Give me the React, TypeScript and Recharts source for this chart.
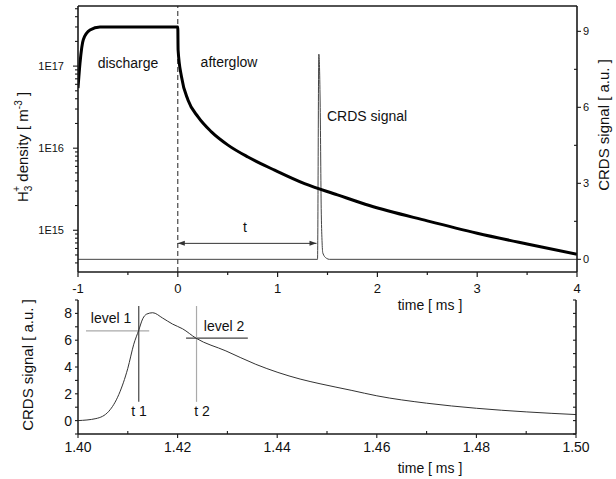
import { LineChart, Line, XAxis, YAxis, ReferenceLine } from 'recharts';

// ---- top panel: H3+ density (log, left) and CRDS signal (right) vs time
const densityTime = [-1, -0.98, -0.947, -0.88, -0.78, -0.5, 0, 0.003, 0.037, 0.103, 0.203, 0.337, 0.503, 0.703, 0.97, 1.27, 1.6, 1.92, 2.5, 3.0, 3.5, 4.0];
const densityValue = [5.4e16, 1.09e17, 2.1e17, 2.75e17, 3.0e17, 3.0e17, 3.0e17, 1.57e17, 7.4e16, 3.85e16, 2.4e16, 1.58e16, 1.09e16, 7.8e15, 5.4e15, 3.7e15, 2.7e15, 2.0e15, 1.3e15, 9.2e14, 6.8e14, 5.1e14];

const crdsTime = [-1, 1.4, 1.413, 1.427, 1.437, 1.445, 1.453, 1.49, 1.52, 4];
const crdsValue = [0, 0, 8.1, 6.0, 2.0, 0.75, 0.25, 0.04, 0, 0];

const topXTicks = [-1, -0.5, 0, 0.5, 1, 1.5, 2, 2.5, 3, 3.5, 4];
const densityTicks = [4e14, 5e14, 6e14, 7e14, 8e14, 9e14, 1e15, 2e15, 3e15, 4e15, 5e15, 6e15, 7e15, 8e15, 9e15, 1e16, 2e16, 3e16, 4e16, 5e16, 6e16, 7e16, 8e16, 9e16, 1e17, 2e17, 3e17, 4e17, 5e17];
const crdsTicks = [0, 1.5, 3, 4.5, 6, 7.5, 9];
const crdsDomain = [-0.5, 10];

// delay arrow "t" (from discharge end to CRDS pulse), on CRDS scale
const arrowTime = [0, 1.39];
const arrowLevel = 0.63;

// ---- bottom panel: zoom of the CRDS pulse
const zoomTime = [1.4, 1.4036, 1.4062, 1.4082, 1.41, 1.4112, 1.4122, 1.413, 1.4138, 1.415, 1.417, 1.419, 1.421, 1.4237, 1.4297, 1.4357, 1.4446, 1.4486, 1.455, 1.46, 1.47, 1.48, 1.49, 1.5];
const zoomSignal = [0.0, 0.15, 0.7, 1.95, 3.9, 5.7, 6.75, 7.6, 7.95, 8.05, 7.65, 7.2, 6.85, 6.15, 5.2, 4.2, 3.1, 2.75, 2.25, 1.85, 1.3, 0.92, 0.65, 0.45];

const zoomXTicks = [1.4, 1.41, 1.42, 1.43, 1.44, 1.45, 1.46, 1.47, 1.48, 1.49, 1.5];
const zoomYTicks = [-1, 0, 1, 2, 3, 4, 5, 6, 7, 8, 9];

const levelValue = [6.7, 6.15];
const levelFrom = [1.4016, 1.4217];
const levelTo = [1.4143, 1.4341];
const crossTime = [1.4122, 1.4238];
const crossSpan = [1.4, 8.55];

const FONT = '"Liberation Sans", Arial, Helvetica, sans-serif';
const AXIS = '#1a1a1a';
const INK = '#111';

const topData = Array.from(new Set([...densityTime, ...crdsTime]))
  .sort((a, b) => a - b)
  .map(t => {
    const di = densityTime.indexOf(t);
    const ci = crdsTime.indexOf(t);
    return { t, density: di >= 0 ? densityValue[di] : null, crds: ci >= 0 ? crdsValue[ci] : null };
  });

const zoomData = zoomTime.map((t, i) => ({ t, signal: zoomSignal[i] }));

const isInt = (v: number) => Math.abs(v - Math.round(v)) < 1e-6;

const TopBottomTick = ({ x, y, payload }: any) => {
  const major = isInt(payload.value);
  return (
    <g>
      <line x1={x} x2={x} y1={y} y2={y + (major ? 5 : 3)} stroke={AXIS} strokeWidth={1.2} />
      {major && (
        <text x={x} y={y + 21} textAnchor="middle" fontSize={13} fontFamily={FONT} fill={INK}>
          {String(payload.value)}
        </text>
      )}
    </g>
  );
};

const LogTick = ({ x, y, payload }: any) => {
  const e = Math.log10(payload.value);
  const major = isInt(e);
  return (
    <g>
      <line x1={x} x2={x - (major ? 5 : 3)} y1={y} y2={y} stroke={AXIS} strokeWidth={1.1} />
      {major && (
        <text x={x - 14} y={y + 4} textAnchor="end" fontSize={11} fontFamily={FONT} fill={INK}>
          {'1E' + Math.round(e)}
        </text>
      )}
    </g>
  );
};

const CrdsTick = ({ x, y, payload }: any) => {
  const major = isInt(payload.value / 3);
  return (
    <g>
      <line x1={x} x2={x + (major ? 4 : -3)} y1={y} y2={y} stroke={AXIS} strokeWidth={1.1} />
      {major && (
        <text x={x + 6} y={y + 4} textAnchor="start" fontSize={11} fontFamily={FONT} fill={INK}>
          {String(payload.value)}
        </text>
      )}
    </g>
  );
};

const ZoomXTick = ({ x, y, payload }: any) => {
  const major = isInt(payload.value * 50);
  return (
    <g>
      <line x1={x} x2={x} y1={major ? y : y - 3} y2={major ? y + 4 : y} stroke={AXIS} strokeWidth={1.1} />
      {major && (
        <text x={x} y={y + 18} textAnchor="middle" fontSize={14} fontFamily={FONT} fill={INK}>
          {payload.value.toFixed(2)}
        </text>
      )}
    </g>
  );
};

const ZoomYTick = ({ x, y, payload }: any) => {
  const v = payload.value;
  const major = v >= 0 && v <= 8 && v % 2 === 0;
  return (
    <g>
      <line x1={x} x2={x - 3} y1={y} y2={y} stroke={AXIS} strokeWidth={1.1} />
      {major && (
        <text x={x - 6} y={y + 5} textAnchor="end" fontSize={14} fontFamily={FONT} fill={INK}>
          {String(v)}
        </text>
      )}
    </g>
  );
};

const ZoomRightTick = ({ x, y }: any) => (
  <line x1={x} x2={x - 3} y1={y} y2={y} stroke={AXIS} strokeWidth={1.1} />
);

const DoubleArrow = (props: any) => {
  const { x1, y1, x2, y2 } = props;
  return (
    <g>
      <line x1={x1} y1={y1} x2={x2} y2={y2} stroke="#333" strokeWidth={1} />
      <polygon points={`${x1},${y1} ${x1 + 7},${y1 - 2.5} ${x1 + 7},${y1 + 2.5}`} fill="#333" />
      <polygon points={`${x2},${y2} ${x2 - 7},${y2 - 2.5} ${x2 - 7},${y2 + 2.5}`} fill="#333" />
    </g>
  );
};

const txt = { fontFamily: FONT, fill: INK } as const;

export default function App() {
  return (
    <div style={{ position: 'absolute', left: 0, top: 0, width: 616, height: 479, background: '#fff', fontFamily: FONT }}>
      <div style={{ position: 'absolute', left: 0, top: 0 }}>
        <LineChart width={616} height={300} data={topData} margin={{ top: 6, right: 0, bottom: 0, left: 0 }}>
          <XAxis xAxisId="b" dataKey="t" type="number" domain={[-1, 4]} ticks={topXTicks} interval={0}
            height={28} tickSize={0} tickMargin={0} tickLine={false} tick={<TopBottomTick />}
            axisLine={{ stroke: AXIS, strokeWidth: 1.6 }} allowDataOverflow />
          <YAxis yAxisId="d" scale="log" type="number" domain={[3.1e14, 5.4e17]} ticks={densityTicks} interval={0}
            width={78} tickSize={0} tickMargin={0} tickLine={false} tick={<LogTick />}
            axisLine={{ stroke: AXIS, strokeWidth: 1.6 }} allowDataOverflow />
          <YAxis yAxisId="c" orientation="right" type="number" domain={crdsDomain} ticks={crdsTicks} interval={0}
            width={39} tickSize={0} tickMargin={0} tickLine={false} tick={<CrdsTick />}
            axisLine={{ stroke: AXIS, strokeWidth: 1.6 }} allowDataOverflow />
          <ReferenceLine xAxisId="b" yAxisId="c" x={0} stroke="#222" strokeWidth={1} strokeDasharray="5 3" />
          <ReferenceLine xAxisId="b" yAxisId="c"
            segment={[{ x: arrowTime[0], y: arrowLevel }, { x: arrowTime[1], y: arrowLevel }]}
            shape={<DoubleArrow />} />
          <Line xAxisId="b" yAxisId="c" dataKey="crds" type="monotone" connectNulls dot={false}
            stroke="#444" strokeWidth={1} isAnimationActive={false} />
          <Line xAxisId="b" yAxisId="d" dataKey="density" type="monotone" connectNulls dot={false}
            stroke="#000" strokeWidth={3} isAnimationActive={false} />
        </LineChart>
      </div>
      <div style={{ position: 'absolute', left: 0, top: 280 }}>
        <LineChart width={616} height={199} data={zoomData} margin={{ top: 20, right: 0, bottom: 0, left: 0 }}>
          <XAxis dataKey="t" type="number" domain={[1.4, 1.5]} ticks={zoomXTicks} interval={0}
            height={45} tickSize={0} tickMargin={0} tickLine={false} tick={<ZoomXTick />}
            axisLine={{ stroke: AXIS, strokeWidth: 1.5 }} allowDataOverflow />
          <YAxis yAxisId="l" type="number" domain={[-1, 9]} ticks={zoomYTicks} interval={0}
            width={78} tickSize={0} tickMargin={0} tickLine={false} tick={<ZoomYTick />}
            axisLine={{ stroke: AXIS, strokeWidth: 1.5 }} allowDataOverflow />
          <YAxis yAxisId="r" orientation="right" type="number" domain={[-1, 9]} ticks={zoomYTicks} interval={0}
            width={40} tickSize={0} tickMargin={0} tickLine={false} tick={<ZoomRightTick />}
            axisLine={{ stroke: AXIS, strokeWidth: 1.5 }} allowDataOverflow />
          {levelValue.map((v, i) => (
            <ReferenceLine key={'lv' + i} yAxisId="l"
              segment={[{ x: levelFrom[i], y: v }, { x: levelTo[i], y: v }]}
              stroke={i === 0 ? '#aaa' : '#444'} strokeWidth={1.2} />
          ))}
          {crossTime.map((t, i) => (
            <ReferenceLine key={'ct' + i} yAxisId="l"
              segment={[{ x: t, y: crossSpan[0] }, { x: t, y: crossSpan[1] }]}
              stroke={i === 0 ? '#444' : '#aaa'} strokeWidth={1.2} />
          ))}
          <Line yAxisId="l" dataKey="signal" type="monotone" dot={false}
            stroke="#333" strokeWidth={1} isAnimationActive={false} />
        </LineChart>
      </div>
      <svg width={616} height={479} style={{ position: 'absolute', left: 0, top: 0, pointerEvents: 'none' }}>
        {/* top frame edge of the upper panel */}
        <line x1={78} x2={577} y1={6} y2={6} stroke={AXIS} strokeWidth={1.6} />
        <text x={128} y={68} textAnchor="middle" fontSize={14} {...txt}>discharge</text>
        <text x={229} y={67} textAnchor="middle" fontSize={14} {...txt}>afterglow</text>
        <text x={327} y={121} textAnchor="start" fontSize={14} {...txt}>CRDS signal</text>
        <text x={245} y={232} textAnchor="middle" fontSize={14} {...txt}>t</text>
        <text x={430} y={310} textAnchor="middle" fontSize={14} {...txt}>time [ ms ]</text>
        <text x={430} y={473} textAnchor="middle" fontSize={14} {...txt}>time [ ms ]</text>
        <text transform="translate(28,147) rotate(-90)" textAnchor="middle" fontSize={15} {...txt}>
          H<tspan dy={4} fontSize={10}>3</tspan><tspan dx={-6} dy={-12} fontSize={10}>+</tspan>
          <tspan dy={8}> density [ m</tspan><tspan dy={-6} fontSize={10}>-3</tspan><tspan dy={6}> ]</tspan>
        </text>
        <text transform="translate(609,125) rotate(-90)" textAnchor="middle" fontSize={15} {...txt}>CRDS signal [ a.u. ]</text>
        <text transform="translate(33,365) rotate(-90)" textAnchor="middle" fontSize={15} {...txt}>CRDS signal [ a.u. ]</text>
        <text x={111} y={323} textAnchor="middle" fontSize={14} {...txt}>level 1</text>
        <text x={224} y={331} textAnchor="middle" fontSize={14} {...txt}>level 2</text>
        <text x={139} y={416} textAnchor="middle" fontSize={14} {...txt}>t 1</text>
        <text x={202} y={416} textAnchor="middle" fontSize={14} {...txt}>t 2</text>
      </svg>
    </div>
  );
}
